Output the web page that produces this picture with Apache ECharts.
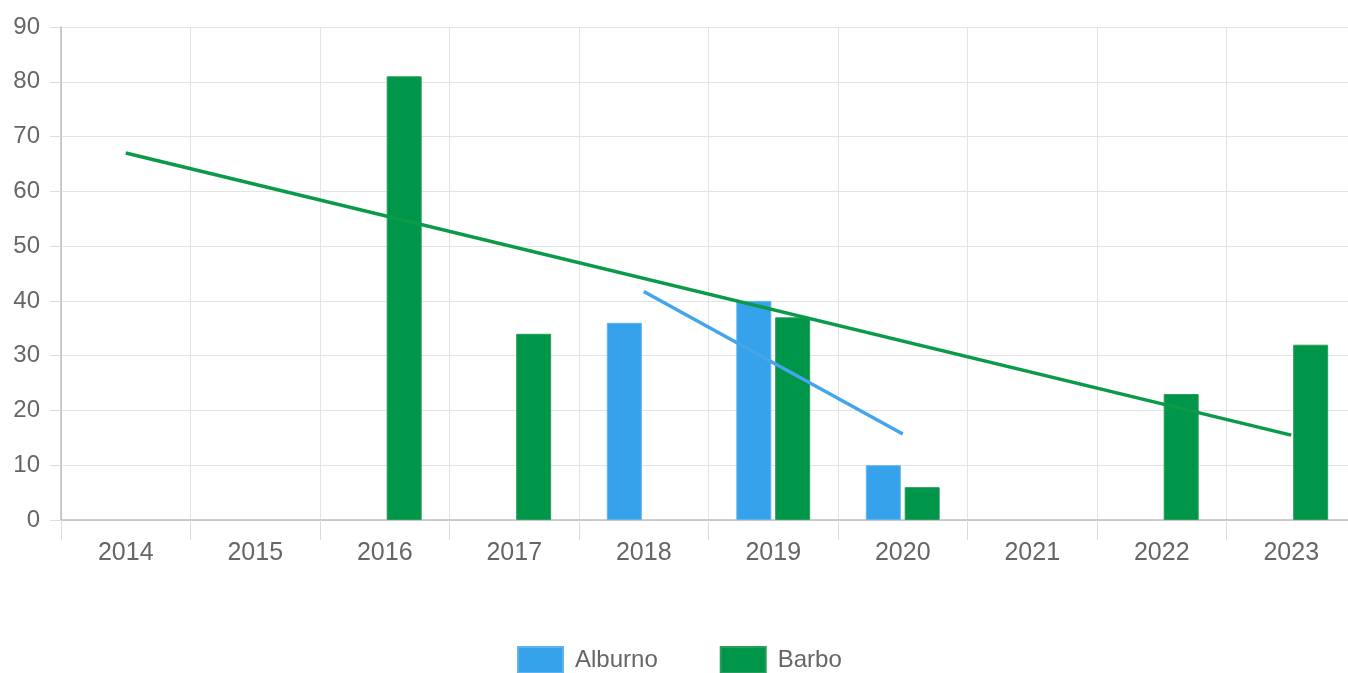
<!DOCTYPE html>
<html>
<head>
<meta charset="utf-8">
<script src="https://cdn.jsdelivr.net/npm/echarts@6/dist/echarts.min.js"></script>
<style>
html,body{margin:0;padding:0;background:#fff;}
#chart{width:1348px;height:673px;}
</style>
</head>
<body>
<div id="chart"></div>
<script>
const years = ['2014','2015','2016','2017','2018','2019','2020','2021','2022','2023'];
const alburno = [null, null, null, null, 36, 40, 10, null, null, null];
const barbo = [null, null, 81, 34, null, 37, 6, null, 23, 32];
const alburnoTrend = [['2018', 41.7], ['2020', 15.7]];
const barboTrend = [['2014', 67], ['2023', 15.5]];
const yTicks = { min: 0, max: 90, interval: 10 };

const blue = '#36a2eb';
const green = '#00964a';
const textColor = '#666';
const font = 'Liberation Sans, Arial, Helvetica, sans-serif';

const chart = echarts.init(document.getElementById('chart'));
chart.setOption({
  animation: false,
  textStyle: { fontFamily: font },
  grid: { left: 61, right: -8, top: 27, bottom: 153, outerBoundsMode: 'none', containLabel: false },
  legend: {
    data: ['Alburno', 'Barbo'],
    top: 646,
    left: 517,
    padding: 0,
    itemWidth: 45,
    itemHeight: 26,
    itemGap: 62,
    icon: 'rect',
    textStyle: { color: textColor, fontSize: 24, fontFamily: font, padding: [0, 0, 0, 7] }
  },
  xAxis: {
    type: 'category',
    data: years,
    boundaryGap: true,
    axisLine: { show: true, lineStyle: { color: '#bdbdbd', width: 1.5 } },
    axisTick: { show: true, length: 20, lineStyle: { color: '#dcdcdc' } },
    splitLine: { show: true, lineStyle: { color: '#e4e4e4' } },
    axisLabel: { color: textColor, fontSize: 25, margin: 21, fontFamily: font }
  },
  yAxis: {
    type: 'value',
    min: yTicks.min,
    max: yTicks.max,
    interval: yTicks.interval,
    axisLine: { show: true, lineStyle: { color: '#bdbdbd', width: 1.5 } },
    axisTick: { show: true, length: 11, lineStyle: { color: '#dcdcdc' } },
    splitLine: { show: true, lineStyle: { color: '#e4e4e4' } },
    axisLabel: { color: textColor, fontSize: 24, margin: 21, fontFamily: font }
  },
  series: [
    {
      name: 'Alburno', type: 'bar', data: alburno,
      barWidth: 35, barGap: '11%',
      itemStyle: { color: blue, borderColor: '#5fb4ee', borderWidth: 1 }
    },
    {
      name: 'Barbo', type: 'bar', data: barbo,
      barWidth: 35,
      itemStyle: { color: green, borderColor: '#2a9e5c', borderWidth: 1 }
    },
    {
      name: 'Tendenza Alburno', type: 'line', data: alburnoTrend,
      showSymbol: false, symbol: 'none', z: 5,
      lineStyle: { color: '#45a5ea', width: 3.5 }
    },
    {
      name: 'Tendenza Barbo', type: 'line', data: barboTrend,
      showSymbol: false, symbol: 'none', z: 5,
      lineStyle: { color: '#0a9a48', width: 3.5 }
    }
  ]
});
</script>
</body>
</html>
